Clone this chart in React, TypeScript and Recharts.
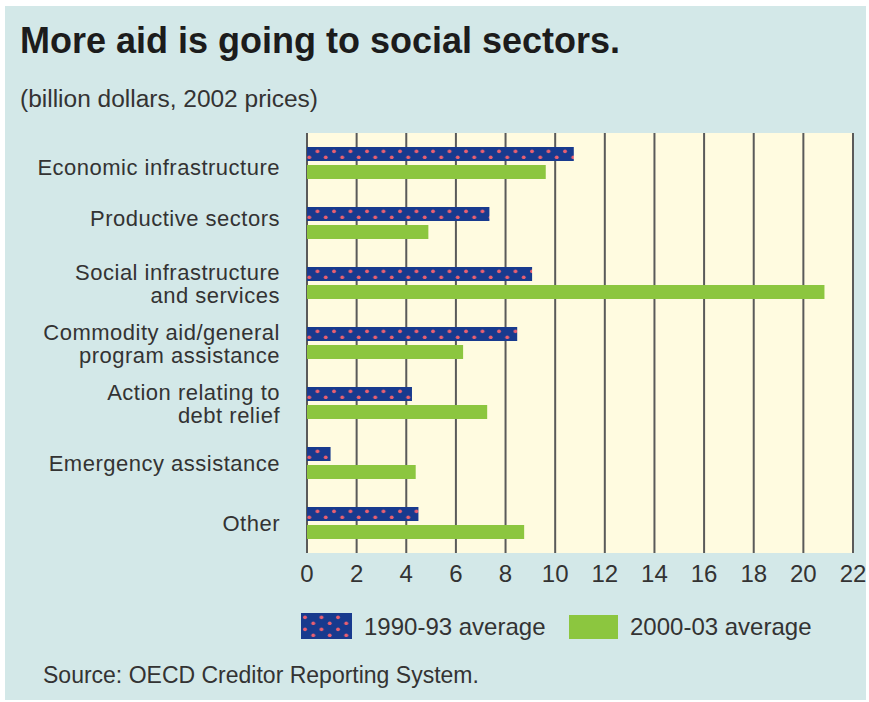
import React from 'react';
import { BarChart, Bar, XAxis, YAxis, CartesianGrid } from 'recharts';

const categories = [
  'Economic infrastructure',
  'Productive sectors',
  'Social infrastructure\nand services',
  'Commodity aid/general\nprogram assistance',
  'Action relating to\ndebt relief',
  'Emergency assistance',
  'Other',
];
const avg1990_93 = [10.75, 7.35, 9.07, 8.47, 4.23, 0.95, 4.49];
const avg2000_03 = [9.62, 4.89, 20.85, 6.29, 7.26, 4.38, 8.75];
const xTicks = [0, 2, 4, 6, 8, 10, 12, 14, 16, 18, 20, 22];
const seriesNames = ['1990-93 average', '2000-03 average'];

const title = 'More aid is going to social sectors.';
const subtitle = '(billion dollars, 2002 prices)';
const source = 'Source: OECD Creditor Reporting System.';

const data = categories.map((name, i) => ({
  name,
  a: avg1990_93[i],
  b: avg2000_03[i],
}));

const NAVY = '#183a8e';
const DOT = '#ea5f70';
const GREEN = '#8cc63f';
const PANEL = '#d3e8e8';
const PLOT_BG = '#fffbe0';
const TEXT = '#333333';
const FONT = '"Liberation Sans", Arial, sans-serif';

const YTick = (props: any) => {
  const { x, y, payload, index } = props;
  const lines = String(payload.value).split('\n');
  const nudge = index === 0 ? 4 : index === 1 ? -5 : 0;
  const baselines =
    lines.length === 1 ? [y + 8 + nudge] : [y - 3, y + 20];
  return (
    <g>
      {lines.map((l, i) => (
        <text
          key={i}
          x={x}
          y={baselines[i]}
          textAnchor="end"
          fontSize={22}
          fontFamily={FONT}
          fill={TEXT}
          style={{ letterSpacing: '0.5px' }}
        >
          {l}
        </text>
      ))}
    </g>
  );
};

export default function App() {
  return (
    <div
      style={{
        position: 'absolute',
        left: 0,
        top: 0,
        width: 869,
        height: 702,
        background: '#ffffff',
        overflow: 'hidden',
      }}
    >
      <svg width={0} height={0} style={{ position: 'absolute' }}>
        <defs>
          <pattern
            id="dots"
            patternUnits="userSpaceOnUse"
            x={0}
            y={147}
            width={16.5}
            height={12}
          >
            <rect x={0} y={0} width={16.5} height={12} fill={NAVY} />
            <circle cx={4} cy={4.3} r={1.9} fill={DOT} />
            <circle cx={12.25} cy={10.3} r={1.9} fill={DOT} />
          </pattern>
          <pattern
            id="dotsLegend"
            patternUnits="userSpaceOnUse"
            x={301}
            y={613}
            width={16.5}
            height={12}
          >
            <rect x={0} y={0} width={16.5} height={12} fill={NAVY} />
            <circle cx={4} cy={4.3} r={1.9} fill={DOT} />
            <circle cx={12.25} cy={10.3} r={1.9} fill={DOT} />
          </pattern>
        </defs>
      </svg>
      <div
        style={{
          position: 'absolute',
          left: 5,
          top: 6,
          width: 861,
          height: 694,
          background: PANEL,
        }}
      />
      <svg
        width={869}
        height={702}
        style={{ position: 'absolute', left: 0, top: 0 }}
      >
        <text
          x={20}
          y={53}
          fontSize={36}
          fontWeight="bold"
          fontFamily={FONT}
          fill="#1c1c1c"
          textLength={600}
          lengthAdjust="spacingAndGlyphs"
        >
          {title}
        </text>
        <text
          x={20}
          y={107}
          fontSize={23}
          fontFamily={FONT}
          fill={TEXT}
          textLength={298}
          lengthAdjust="spacingAndGlyphs"
        >
          {subtitle}
        </text>
        <rect x={301} y={613} width={51} height={26} fill="url(#dotsLegend)" />
        <text x={364} y={635} fontSize={24} fontFamily={FONT} fill={TEXT}>
          {seriesNames[0]}
        </text>
        <rect x={569} y={615} width={49} height={24} fill={GREEN} />
        <text x={630} y={635} fontSize={24} fontFamily={FONT} fill={TEXT}>
          {seriesNames[1]}
        </text>
        <text x={43} y={683} fontSize={23} fontFamily={FONT} fill={TEXT}>
          {source}
        </text>
      </svg>
      <div style={{ position: 'absolute', left: 0, top: 0 }}>
        <BarChart
          width={869}
          height={600}
          data={data}
          layout="vertical"
          margin={{ top: 133, right: 16, left: 0, bottom: 0 }}
          barSize={14}
          barGap={4}
        >
          <CartesianGrid
            horizontal={false}
            vertical={true}
            stroke="#5a5a5a"
            strokeWidth={2}
            fill={PLOT_BG}
            fillOpacity={1}
          />
          <XAxis
            type="number"
            domain={[0, 22]}
            ticks={xTicks}
            axisLine={false}
            tickLine={false}
            tickMargin={6}
            height={47}
            interval={0}
            tick={{ fontSize: 24, fill: TEXT, fontFamily: FONT }}
          />
          <YAxis
            type="category"
            dataKey="name"
            width={307}
            axisLine={false}
            tickLine={false}
            tickMargin={21}
            interval={0}
            tick={<YTick />}
          />
          <Bar dataKey="a" name={seriesNames[0]} fill="url(#dots)" isAnimationActive={false} />
          <Bar dataKey="b" name={seriesNames[1]} fill={GREEN} isAnimationActive={false} />
        </BarChart>
      </div>
    </div>
  );
}
